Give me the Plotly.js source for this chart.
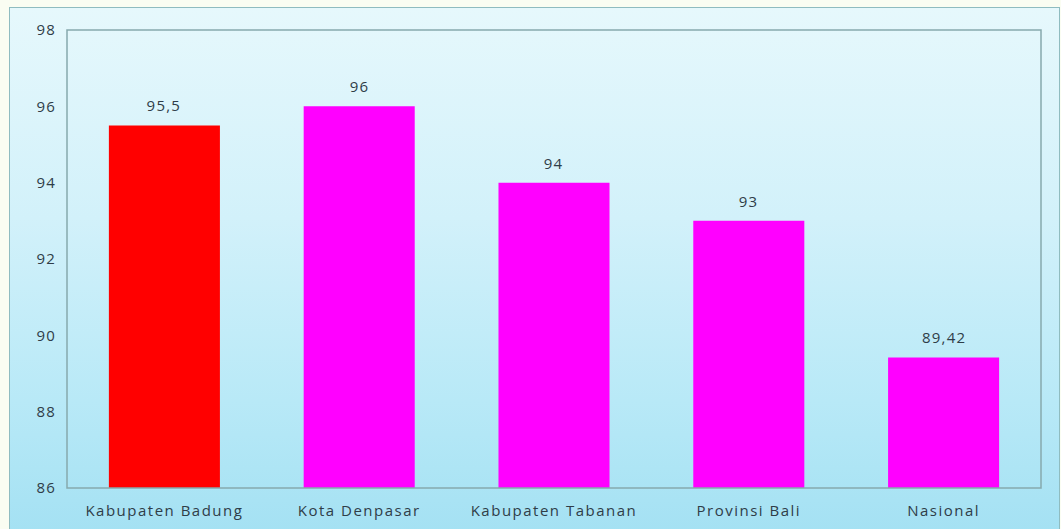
<!DOCTYPE html>
<html>
<head>
<meta charset="utf-8">
<script src="https://cdn.plot.ly/plotly-3.0.1.min.js"></script>
<style>
  html, body { margin: 0; padding: 0; width: 1061px; height: 529px; overflow: hidden; background: #fafdf2; }
  #frame {
    position: absolute; left: 9px; top: 7px; width: 1049px; height: 525px;
    border: 1px solid #8fbcc0;
    background: linear-gradient(to bottom, #e6f8fc 0%, #d2f1fa 40%, #b8e9f7 75%, #a4e1f3 100%);
  }
  #chart { position: absolute; left: 0; top: 0; width: 1061px; height: 529px; }
  #chart text { letter-spacing: 1.2px; }
  #chart .xtick text { letter-spacing: 1.5px; }
</style>
</head>
<body>
<div id="frame"></div>
<div id="chart"></div>
<script>
const categories = ["Kabupaten Badung", "Kota Denpasar", "Kabupaten Tabanan", "Provinsi Bali", "Nasional"];
const values = [95.5, 96, 94, 93, 89.42];
const valueLabels = ["95,5", "96", "94", "93", "89,42"];
const barColors = ["#ff0000", "#ff00ff", "#ff00ff", "#ff00ff", "#ff00ff"];
const yTicks = [86, 88, 90, 92, 94, 96, 98];

const textFont = { family: "'Open Sans', Lato, sans-serif", size: 15, color: "#2f3d48" };

const trace = {
  type: "bar",
  x: categories,
  y: values,
  marker: { color: barColors, line: { width: 0 } },
  hoverinfo: "skip"
};

const annotations = categories.map((c, i) => ({
  x: c, y: values[i], xref: "x", yref: "y",
  text: valueLabels[i], showarrow: false,
  yanchor: "bottom", yshift: 8,
  font: textFont
}));

const layout = {
  width: 1061, height: 529,
  margin: { l: 67, r: 20, t: 30, b: 41 },
  paper_bgcolor: "rgba(0,0,0,0)",
  plot_bgcolor: "rgba(0,0,0,0)",
  showlegend: false,
  bargap: 0.43,
  xaxis: {
    type: "category",
    showgrid: false, zeroline: false,
    showline: false,
    ticks: "",
    ticklabelstandoff: 12,
    tickfont: textFont
  },
  yaxis: {
    range: [86, 98],
    tickvals: yTicks,
    ticktext: yTicks.map(String),
    showgrid: false, zeroline: false, showline: false,
    ticks: "",
    ticklabelstandoff: 10,
    tickfont: textFont
  },
  shapes: [{
    type: "rect", xref: "paper", yref: "paper", x0: 0, x1: 1, y0: 0, y1: 1,
    line: { color: "#86a9ad", width: 1.5 }, fillcolor: "rgba(0,0,0,0)", layer: "above"
  }],
  annotations: annotations
};

Plotly.newPlot("chart", [trace], layout, { displayModeBar: false, staticPlot: true });
</script>
</body>
</html>
